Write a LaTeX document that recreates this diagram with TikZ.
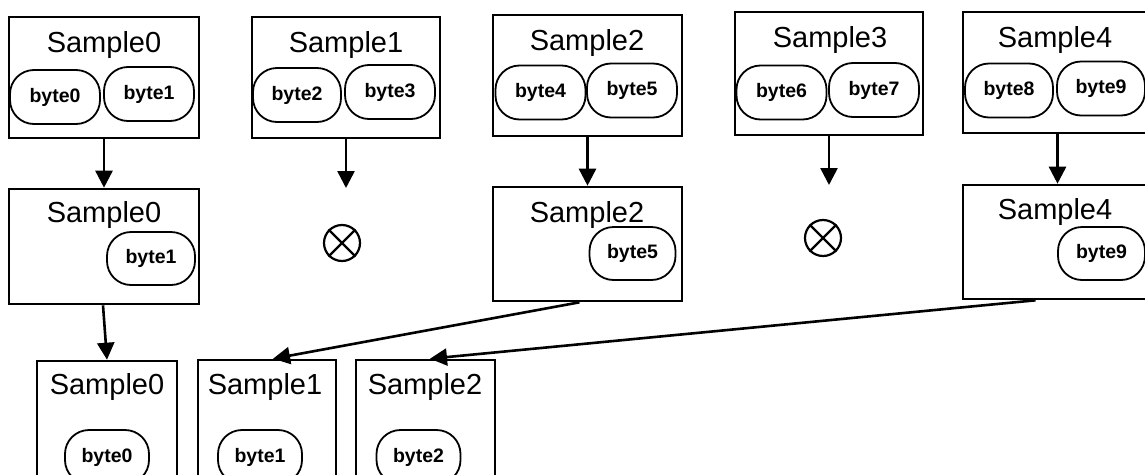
\documentclass[tikz,border=0pt]{standalone}
\usepackage{fontspec}
\setmainfont{Liberation Sans}
\usetikzlibrary{arrows.meta}

\begin{document}
\begin{tikzpicture}[x=1pt,y=-1pt,
  sbox/.style={draw, line width=2.6pt, inner sep=0pt},
  title/.style={inner sep=0pt, font=\fontsize{29pt}{34pt}\selectfont},
  byte/.style={draw, line width=1.8pt, rounded corners=24pt, minimum width=90pt,
               minimum height=54pt, inner sep=0pt,
               font=\fontsize{19.5pt}{23pt}\selectfont\bfseries},
  drop/.style={draw, circle, line width=2.2pt, minimum size=36pt, inner sep=0pt},
  flow/.style={line width=2.6pt, -{Triangle[length=17pt,width=17pt]}}]

\useasboundingbox (0,0) rectangle (1145,474);

% ---- first row: five samples of two bytes each
\node[sbox, minimum width=190pt, minimum height=121pt] (T0) at (104,77.5) {};
\node[title] (t0) at (104,45) {Sample0};
\node[byte] (b0) at (55,97) {byte0};
\node[byte] (b1) at (149,94) {byte1};

\node[sbox, minimum width=188pt, minimum height=121pt] (T1) at (346,77.5) {};
\node[title] (t1) at (346,45) {Sample1};
\node[byte, minimum width=88pt] (b2) at (297,95) {byte2};
\node[byte] (b3) at (390,92) {byte3};

\node[sbox, minimum width=189pt, minimum height=121pt] (T2) at (587.5,75.5) {};
\node[title] (t2) at (587,43) {Sample2};
\node[byte] (b4) at (540.5,92.5) {byte4};
\node[byte] (b5) at (632,90.5) {byte5};

\node[sbox, minimum width=188pt, minimum height=123pt] (T3) at (829,73.5) {};
\node[title] (t3) at (830,40) {Sample3};
\node[byte] (b6) at (781.5,92.5) {byte6};
\node[byte] (b7) at (874,90) {byte7};

\node[sbox, minimum width=189pt, minimum height=121pt] (T4) at (1057.5,72.5) {};
\node[title] (t4) at (1055,40) {Sample4};
\node[byte, minimum width=88pt] (b8) at (1009,90.5) {byte8};
\node[byte, minimum width=88pt] (b9) at (1101,88.5) {byte9};

% ---- second row: samples keeping one byte, dropped samples
\node[sbox, minimum width=190pt, minimum height=115pt] (M0) at (104,246.5) {};
\node[title] (m0) at (104,215) {Sample0};
\node[byte, minimum width=88pt, minimum height=53pt] (mb1) at (151,258.5) {byte1};

\node[drop] (x1) at (342,243) {};
\draw[line width=2.2pt] (x1.north west) -- (x1.south east) (x1.north east) -- (x1.south west);
\coordinate (e1) at (346,188);

\node[sbox, minimum width=189pt, minimum height=114pt] (M2) at (587.5,244) {};
\node[title] (m2) at (587,215) {Sample2};
\node[byte, minimum width=86pt, minimum height=53pt] (mb5) at (632.5,253.5) {byte5};

\node[drop] (x3) at (823,238) {};
\draw[line width=2.2pt] (x3.north west) -- (x3.south east) (x3.north east) -- (x3.south west);
\coordinate (e3) at (829,185);

\node[sbox, minimum width=189pt, minimum height=114pt] (M4) at (1057.5,242) {};
\node[title] (m4) at (1055,212) {Sample4};
\node[byte, minimum width=87pt, minimum height=53pt] (mb9) at (1101.5,253.5) {byte9};

% ---- third row: repacked samples of one byte
\node[sbox, minimum width=140pt, minimum height=160pt] (L0) at (107,441) {};
\node[title] (l0) at (107,387) {Sample0};
\node[byte, minimum width=84pt] (lb0) at (107,457) {byte0};

\node[sbox, minimum width=138pt, minimum height=160pt] (L1) at (267,440) {};
\node[title] (l1) at (265,387) {Sample1};
\node[byte, minimum width=84pt] (lb1) at (260,457) {byte1};

\node[sbox, minimum width=139pt, minimum height=160pt] (L2) at (425.5,440) {};
\node[title] (l2) at (425,387) {Sample2};
\node[byte, minimum width=84pt] (lb2) at (418.5,457) {byte2};

% ---- connectors
\draw[flow] (T0.south) -- (M0.north);
\draw[flow] (T1.south -| e1) -- (e1);
\draw[flow] (T2.south) -- (M2.north);
\draw[flow] (T3.south -| e3) -- (e3);
\draw[flow] (T4.south) -- (M4.north);
\draw[flow] ([xshift=-1pt]M0.south) -- (L0.north);
\draw[flow] ([xshift=-8pt]M2.south) -- ([xshift=6pt]L1.north);
\draw[flow] ([xshift=-22pt]M4.south) -- ([xshift=4.5pt]L2.north);
\end{tikzpicture}
\end{document}
